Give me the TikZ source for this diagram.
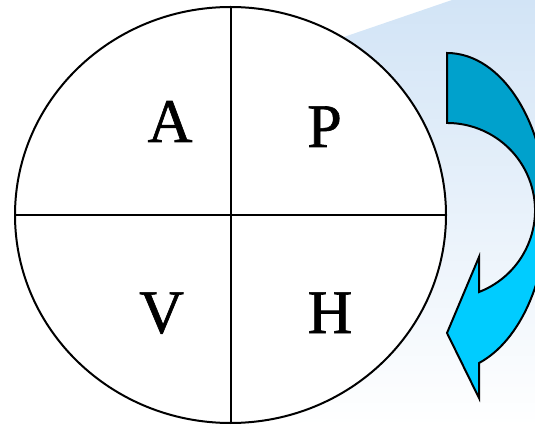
\documentclass[tikz,border=0pt]{standalone}
\usepackage{fontspec}
\setmainfont{Liberation Serif}
\newfontfamily\letterfont[FakeBold=1]{Liberation Serif}

\definecolor{bgblue}{RGB}{210,228,246}
\definecolor{arrowdark}{RGB}{0,161,204}
\definecolor{arrowlight}{RGB}{0,204,255}

% curved arrow on the right, runs past the page edge
\newcommand{\turnarrow}{%
  (447,373) arc[start angle=90,end angle=-71.3,x radius=100,y radius=159.2]
  -- (479,28) -- (447,93) -- (479,169) -- (479,134)
  arc[start angle=-68.7,end angle=90,x radius=88,y radius=87.5] -- cycle}

\begin{document}
\begin{tikzpicture}[x=1pt,y=1pt,
  letter/.style={anchor=base,inner sep=0pt,font=\letterfont\fontsize{62}{62}\selectfont}]
  \clip (0,0) rectangle (535,426);
  \shade[top color=bgblue,bottom color=white]
    (300,374) -- (452,426) -- (535,426) -- (535,0) -- (300,0) -- cycle;
  % the wheel
  \coordinate (wtop) at (230.5,419);
  \coordinate (wbot) at (230.5,3);
  \coordinate (wleft) at (15,211);
  \coordinate (wright) at (446,211);
  \filldraw[fill=white,line width=2pt] (230.5,211) ellipse[x radius=215.5,y radius=208];
  \draw[line width=2pt] (wtop) -- (wbot);
  \draw[line width=2pt] (wleft) -- (wright);
  \node[letter] (A) at (170,284) {A};
  \node[letter] (P) at (324.5,279) {P};
  \node[letter] (V) at (161.5,93) {V};
  \node[letter] (H) at (330,93) {H};
  % arrow
  \fill[arrowlight] \turnarrow;
  \begin{scope}
    \clip (400,226) rectangle (560,426);
    \fill[arrowdark] \turnarrow;
  \end{scope}
  \draw[line width=2pt,line join=miter] \turnarrow;
\end{tikzpicture}
\end{document}
